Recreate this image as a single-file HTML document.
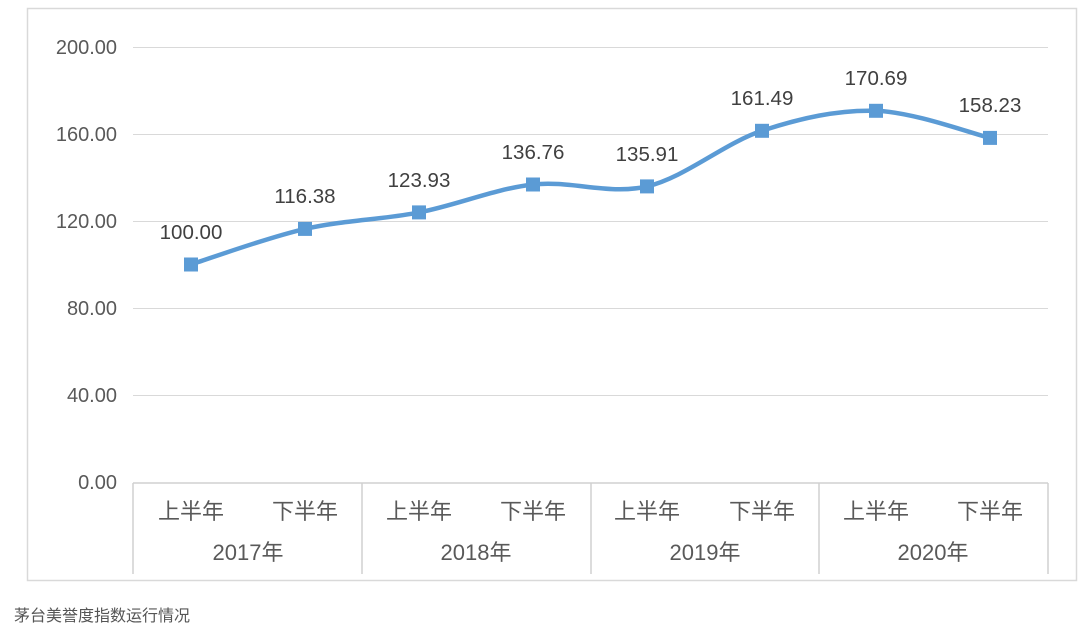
<!DOCTYPE html>
<html><head><meta charset="utf-8"><style>
html,body{margin:0;padding:0;background:#fff;}
svg text{font-family:"Liberation Sans","Noto Sans CJK SC",sans-serif;}
</style></head><body>
<svg width="1080" height="629" viewBox="0 0 1080 629" xmlns="http://www.w3.org/2000/svg">
<rect x="27.5" y="8.5" width="1049" height="572" fill="#fff" stroke="#d9d9d9" stroke-width="1.5"/>
<g stroke="#d9d9d9" stroke-width="1">
<line x1="133" y1="47.5" x2="1048" y2="47.5"/>
<line x1="133" y1="134.5" x2="1048" y2="134.5"/>
<line x1="133" y1="221.5" x2="1048" y2="221.5"/>
<line x1="133" y1="308.5" x2="1048" y2="308.5"/>
<line x1="133" y1="395.5" x2="1048" y2="395.5"/>
</g>
<g stroke="#d0d0d0" stroke-width="1.5">
<line x1="133" y1="483" x2="1048" y2="483"/>
<line x1="133" y1="483" x2="133" y2="574"/>
<line x1="362" y1="483" x2="362" y2="574"/>
<line x1="591" y1="483" x2="591" y2="574"/>
<line x1="819" y1="483" x2="819" y2="574"/>
<line x1="1048" y1="483" x2="1048" y2="574"/>
</g>
<g font-size="20" fill="#595959" text-anchor="end">
<text x="117" y="54">200.00</text>
<text x="117" y="141">160.00</text>
<text x="117" y="228">120.00</text>
<text x="117" y="315">80.00</text>
<text x="117" y="402">40.00</text>
<text x="117" y="489">0.00</text>
</g>
<g font-size="22" fill="#595959" text-anchor="middle">
<text x="191" y="519">上半年</text><text x="305" y="519">下半年</text>
<text x="419" y="519">上半年</text><text x="533" y="519">下半年</text>
<text x="647" y="519">上半年</text><text x="762" y="519">下半年</text>
<text x="876" y="519">上半年</text><text x="990" y="519">下半年</text>
<text x="248" y="560">2017年</text><text x="476" y="560">2018年</text>
<text x="705" y="560">2019年</text><text x="933" y="560">2020年</text>
</g>
<path d="M191,264.5 C210,258.4 267,237.6 305,228.9 C343,220.2 381,219.8 419,212.4 C457,205 495,188.8 533,184.5 C571,180.2 608.8,195.3 647,186.4 C685.2,177.4 723.8,143.4 762,130.8 C800.2,118.2 838,109.6 876,110.8 C914,112 971,133.4 990,137.9" fill="none" stroke="#5b9bd5" stroke-width="4.5" stroke-linecap="round"/>
<g fill="#5b9bd5">
<rect x="184" y="257.5" width="14" height="14"/><rect x="298" y="221.9" width="14" height="14"/>
<rect x="412" y="205.4" width="14" height="14"/><rect x="526" y="177.5" width="14" height="14"/>
<rect x="640" y="179.4" width="14" height="14"/><rect x="755" y="123.8" width="14" height="14"/>
<rect x="869" y="103.8" width="14" height="14"/><rect x="983" y="130.9" width="14" height="14"/>
</g>
<g font-size="20.5" fill="#404040" text-anchor="middle">
<text x="191" y="239">100.00</text><text x="305" y="203">116.38</text>
<text x="419" y="187">123.93</text><text x="533" y="159">136.76</text>
<text x="647" y="161">135.91</text><text x="762" y="105">161.49</text>
<text x="876" y="85">170.69</text><text x="990" y="112">158.23</text>
</g>
<text x="14" y="621" font-size="16" fill="#555">茅台美誉度指数运行情况</text>
</svg>
</body></html>
